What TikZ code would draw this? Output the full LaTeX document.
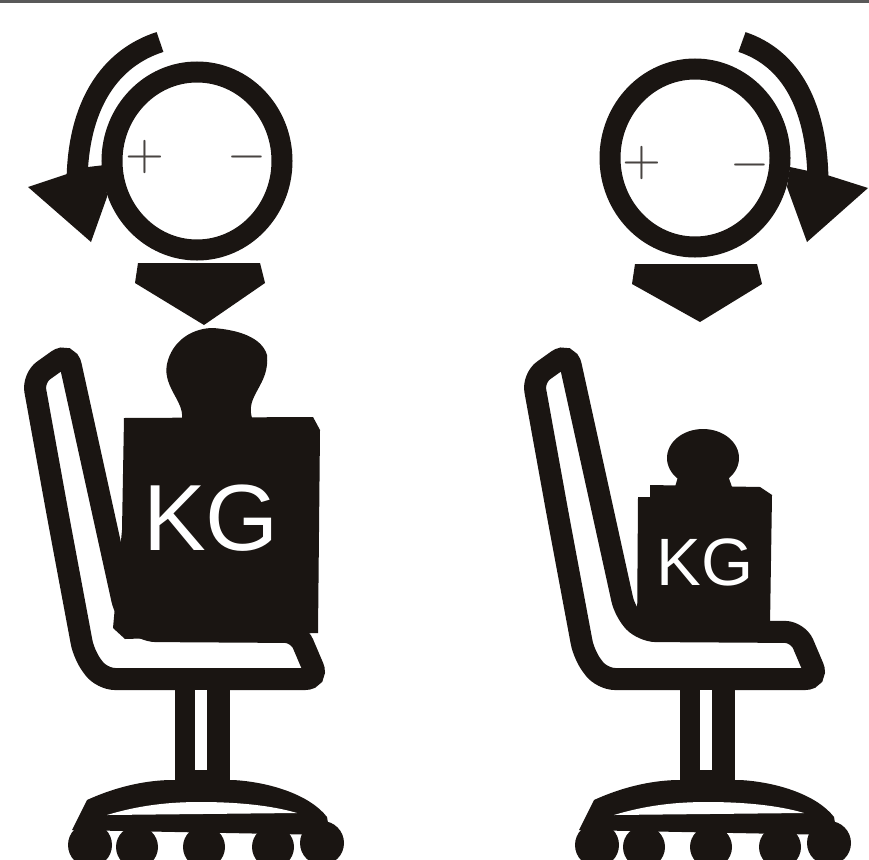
\documentclass[tikz,border=0pt]{standalone}
\usepackage{fontspec}
\setmainfont{Liberation Sans}
\definecolor{ink}{HTML}{1A1512}
\tikzset{
    ring/.style={draw=ink, line width=21pt},
    band/.style={draw=ink, line width=21pt, line cap=butt},
    solid/.style={fill=ink, draw=none},
    sign/.style={text=ink!80, inner sep=0pt, scale=5}
}
\begin{document}
\begin{tikzpicture}[x=1pt, y=-1pt]
    \clip (0,0) rectangle (869,859);
    \fill[white] (0,0) rectangle (869,859);
    \fill[black!65] (0,0) rectangle (869,3);

    % 转盘 A
    \draw[ring] (197,161) ellipse [x radius=85, y radius=89];
    \node[sign] (plusA) at (145,157) {$+$};
    \node[sign] (minusA) at (247,157) {$-$};
    \draw[band] (160,42) .. controls (110,58) and (77,105) .. (77,185);
    \fill[solid] (28,187) -- (88,167) -- (105,165) -- (107,197) -- (91,242) -- cycle;
    \fill[solid] (138,263) -- (260,263) -- (265,283) -- (204,325) -- (135,283) -- cycle;

    % 转盘 B
    \draw[ring] (695,158) ellipse [x radius=85, y radius=89];
    \node[sign] (plusB) at (642,163) {$+$};
    \node[sign] (minusB) at (750,165) {$-$};
    \draw[band] (742,42) .. controls (790,58) and (818,105) .. (818,185);
    \fill[solid] (868,188) -- (827,175) -- (790,167) -- (787,187) -- (807,242) -- cycle;
    \fill[solid] (635,264) -- (757,264) -- (762,284) -- (700,322) -- (632,284) -- cycle;

    % 椅子
    \foreach \x in {0,500}{
        \draw[ink, line width=22pt, rounded corners=13pt, xshift=\x]
            (58,516) -- (33,378) -- (68,353) -- (125,612) -- (143,631)
            -- (298,632) -- (318,679) -- (102,679) -- (84,655) -- cycle;
    }
    \foreach \x in {0,505}{
        \fill[ink, xshift=\x] (175,680) rectangle (230,790);
        \fill[white, xshift=\x] (195,690) rectangle (207,770);
    }

    % 底座
    \foreach \x in {0,507}{
        \begin{scope}[xshift=\x]
            \fill[ink] (72,830) -- (87,800) .. controls (120,785) and (150,780) .. (173,780)
                -- (233,780) .. controls (270,782) and (310,795) .. (327,817) -- (330,835) -- cycle;
            \fill[white] (107,815) .. controls (140,805) and (170,802) .. (200,802)
                .. controls (235,802) and (270,805) .. (297,813) -- cycle;
            \foreach \cx/\cy/\r in {90/845/22,137/847/21,204/847/21,273/847/21,322/843/22}{
                \fill[ink] (\cx,\cy) circle [radius=\r];
            }
        \end{scope}
    }

    % 砝码 A
    \fill[solid] (182,418) .. controls (184,400) and (160,385) .. (168,360)
        .. controls (175,338) and (195,328) .. (213,328)
        .. controls (240,330) and (262,338) .. (267,355)
        .. controls (270,385) and (245,395) .. (252,418) -- cycle;
    \fill[solid] (124,418) -- (313,417) -- (320,430)
        -- (318,633) -- (125,639) -- (113,628) -- (122,530) -- cycle;
    \node[text=white, inner sep=0pt, font=\fontsize{94}{94}\selectfont] (kgA) at (211,518) {KG};

    % 砝码 B
    \fill[solid] (703,458) ellipse [x radius=36, y radius=29];
    \fill[solid] (680,470) -- (726,470) -- (732,487) -- (675,487) -- cycle;
    \fill[solid] (650,485) -- (760,487) -- (772,495) -- (770,625)
        -- (637,637) -- (638,497) -- (650,497) -- cycle;
    \node[text=white, inner sep=0pt, font=\fontsize{67}{67}\selectfont] (kgB) at (705,562) {KG};
\end{tikzpicture}
\end{document}
